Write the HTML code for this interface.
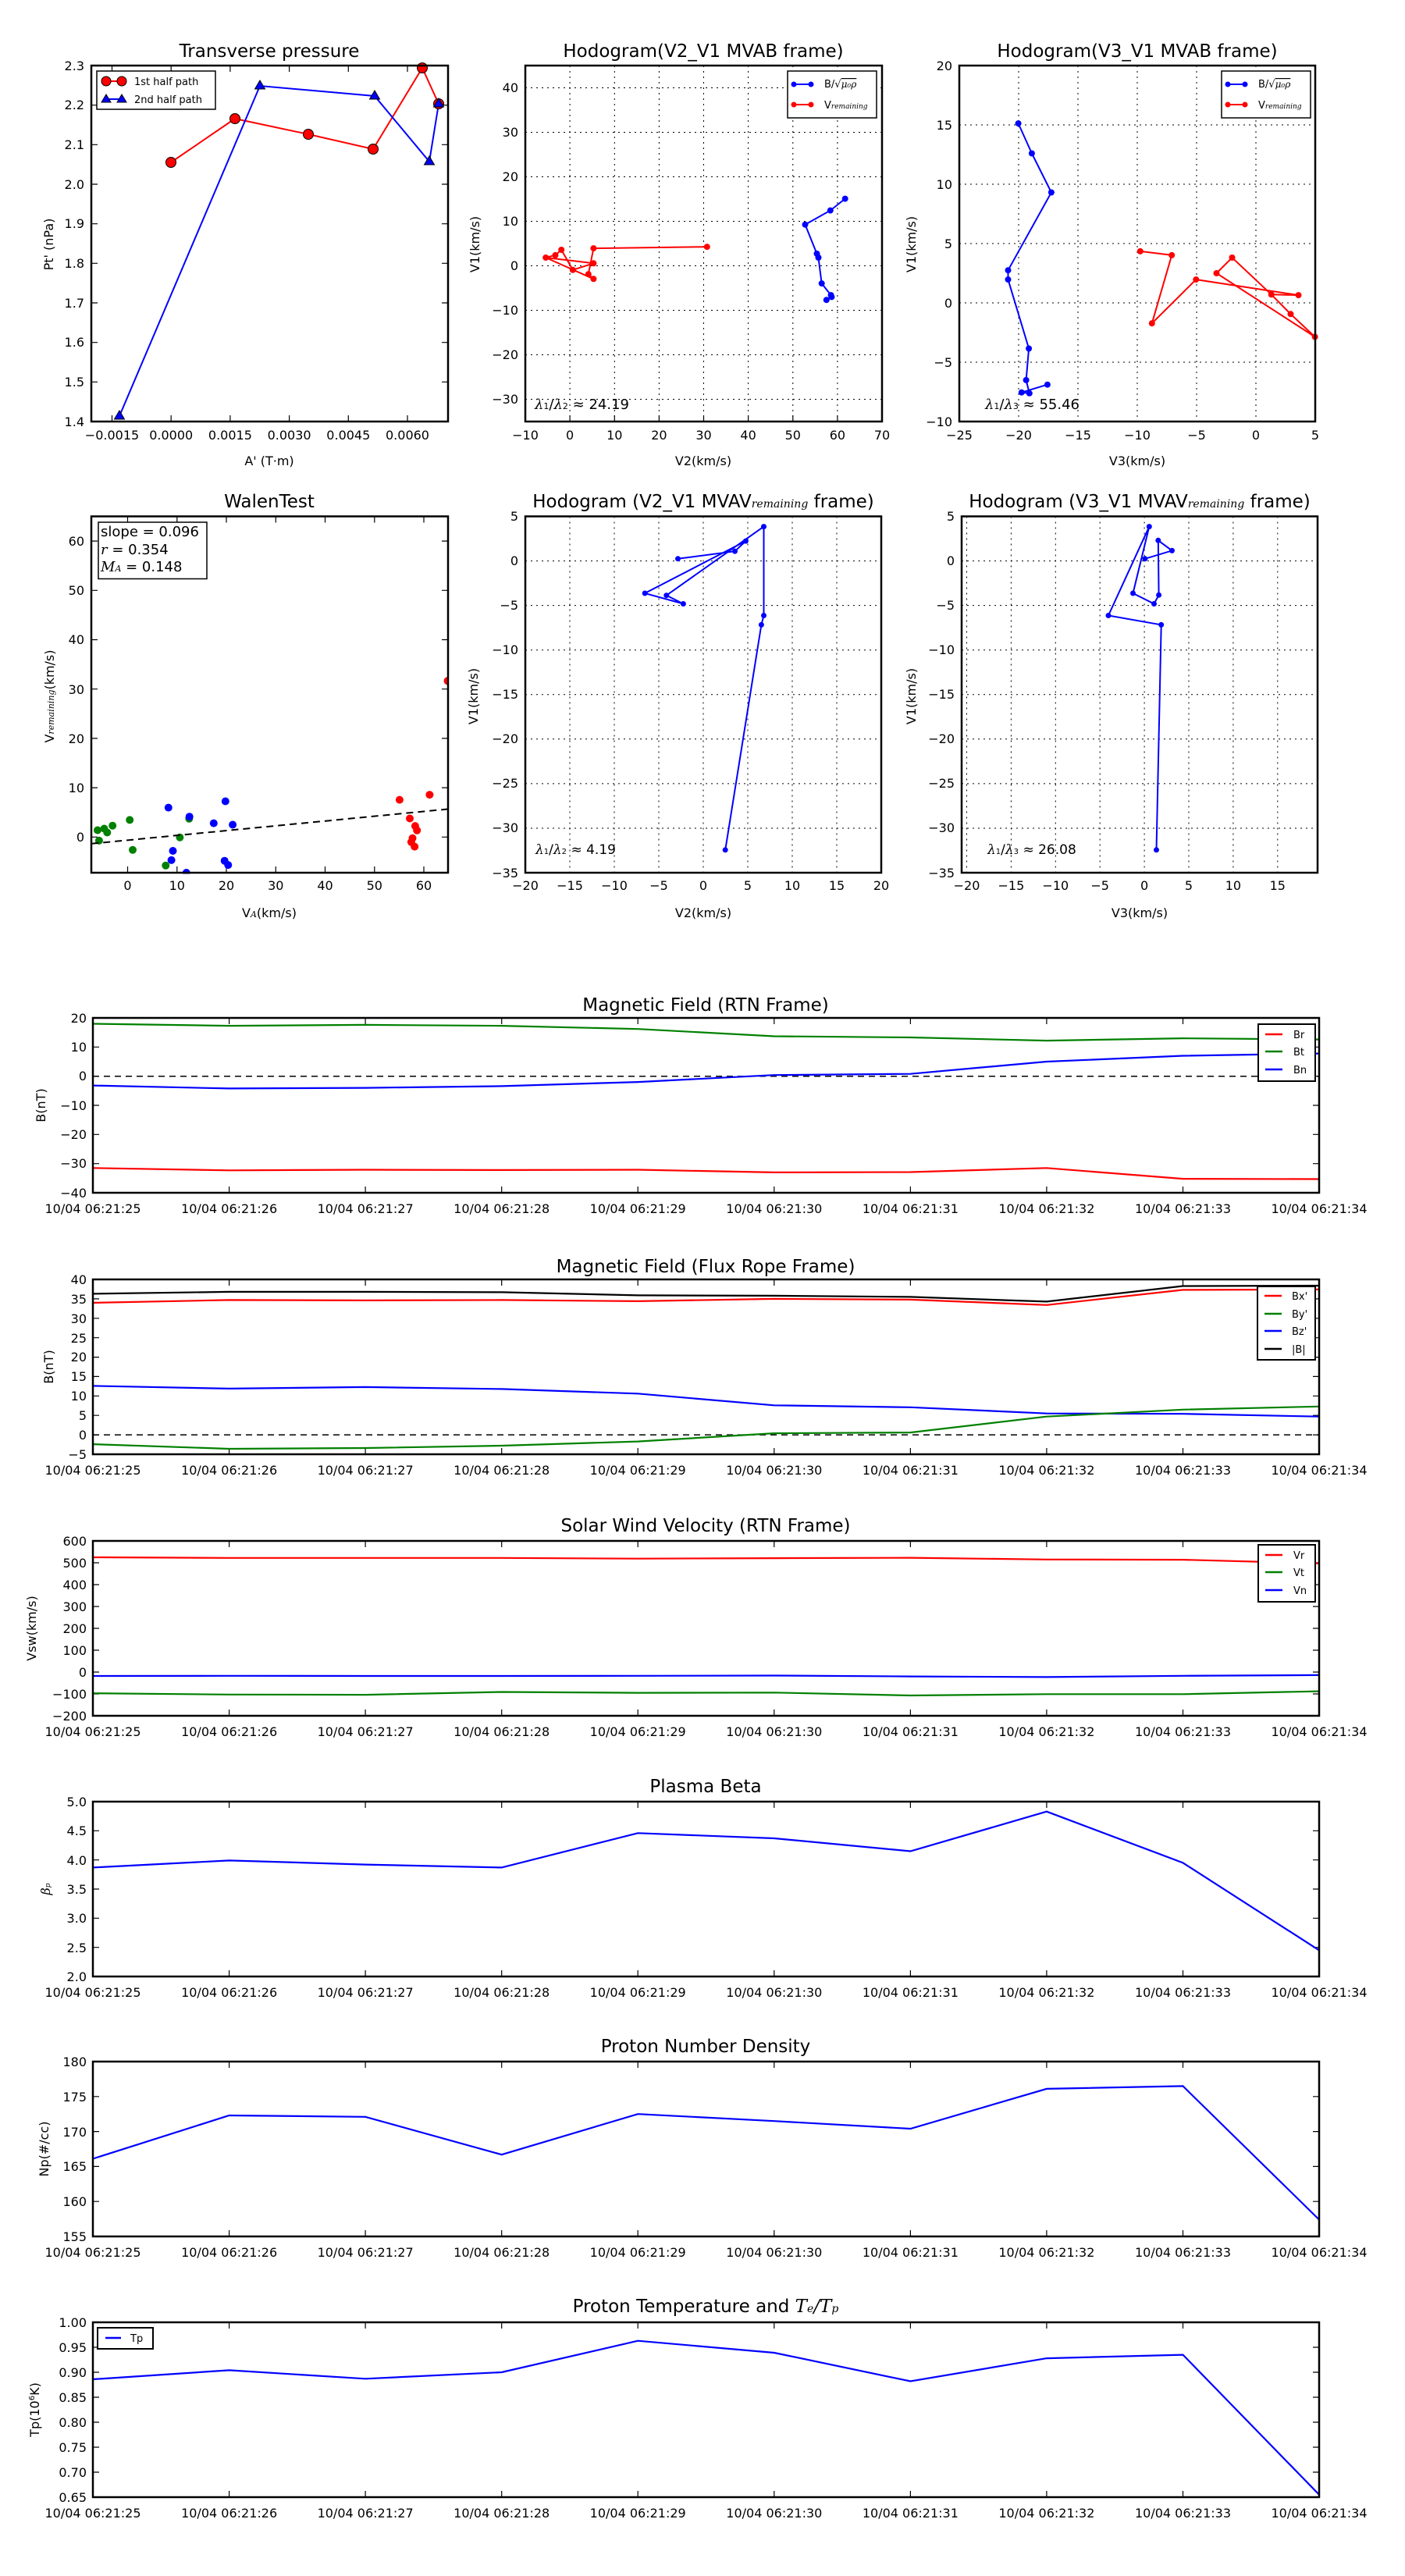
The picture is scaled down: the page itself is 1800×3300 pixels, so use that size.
<!DOCTYPE html>
<html><head><meta charset="utf-8"><style>
html,body{margin:0;padding:0;background:#fff}
svg{display:block}
text{font-family:"DejaVu Sans","Liberation Sans",sans-serif;fill:#000}
.t{font-size:23px;text-anchor:middle}
.tk{font-size:16px}
.yl{font-size:16px;text-anchor:end}
.xl{font-size:16px;text-anchor:middle}
.lab{font-size:16px;text-anchor:middle}
.lg{font-size:13px}
.m{font-family:"DejaVu Serif","Liberation Serif",serif;font-style:italic}
.ax{fill:none;stroke:#000;stroke-width:2.5}
.tick{stroke:#000;stroke-width:1.2}
.grid{stroke:#000;stroke-width:1;stroke-dasharray:2,5}
</style></head><body>
<svg width="1800" height="3300" viewBox="0 0 1800 3300" xmlns="http://www.w3.org/2000/svg">
<rect width="1800" height="3300" fill="#fff"/>

<!-- ============ P1 Transverse pressure ============ -->
<text class="t" x="345" y="73">Transverse pressure</text>
<g class="tick">
<path d="M143.5,540v-8M219.2,540v-8M294.9,540v-8M370.6,540v-8M446.3,540v-8M522,540v-8
M143.5,84v8M219.2,84v8M294.9,84v8M370.6,84v8M446.3,84v8M522,84v8
M117,134.7h8M117,185.3h8M117,236h8M117,286.7h8M117,337.3h8M117,388h8M117,438.7h8M117,489.3h8
M574,134.7h-8M574,185.3h-8M574,236h-8M574,286.7h-8M574,337.3h-8M574,388h-8M574,438.7h-8M574,489.3h-8"/>
</g>
<polyline points="219,208 301,152 395,172 478,191 541,87 562,133" fill="none" stroke="#f00" stroke-width="2"/>
<polyline points="153,533 333,110 480,123 550,207 562,133" fill="none" stroke="#00f" stroke-width="2"/>
<g fill="#f00" stroke="#000" stroke-width="1">
<circle cx="219" cy="208" r="6.5"/><circle cx="301" cy="152" r="6.5"/><circle cx="395" cy="172" r="6.5"/><circle cx="478" cy="191" r="6.5"/><circle cx="541" cy="87" r="6.5"/><circle cx="562" cy="133" r="6.5"/>
</g>
<g fill="#00f" stroke="#000" stroke-width="1">
<path d="M153,526l6.5,11h-13z"/><path d="M333,103l6.5,11h-13z"/><path d="M480,116l6.5,11h-13z"/><path d="M550,200l6.5,11h-13z"/><path d="M562,126l6.5,11h-13z"/>
</g>
<rect class="ax" x="117" y="84" width="457" height="456"/>
<rect x="124" y="91" width="152" height="49" fill="#fff" stroke="#000" stroke-width="1.5"/>
<line x1="136" y1="104" x2="156" y2="104" stroke="#f00" stroke-width="2"/>
<circle cx="136" cy="104" r="6" fill="#f00" stroke="#000"/><circle cx="156" cy="104" r="6" fill="#f00" stroke="#000"/>
<line x1="136" y1="127" x2="156" y2="127" stroke="#00f" stroke-width="2"/>
<path d="M136,121l6,10h-12zM156,121l6,10h-12z" fill="#00f" stroke="#000"/>
<text class="lg" x="172" y="109">1st half path</text>
<text class="lg" x="172" y="132">2nd half path</text>
<g class="yl">
<text x="108" y="90">2.3</text><text x="108" y="140">2.2</text><text x="108" y="191">2.1</text><text x="108" y="242">2.0</text><text x="108" y="292">1.9</text><text x="108" y="343">1.8</text><text x="108" y="394">1.7</text><text x="108" y="444">1.6</text><text x="108" y="495">1.5</text><text x="108" y="546">1.4</text>
</g>
<g class="xl">
<text x="143.5" y="563">−0.0015</text><text x="219.2" y="563">0.0000</text><text x="294.9" y="563">0.0015</text><text x="370.6" y="563">0.0030</text><text x="446.3" y="563">0.0045</text><text x="522" y="563">0.0060</text>
</g>
<text class="lab" x="345" y="596">A' (T·m)</text>
<text class="lab" transform="translate(68,313) rotate(-90)">Pt' (nPa)</text>

<!-- ============ P2 Hodogram V2_V1 MVAB ============ -->
<text class="t" x="901" y="73">Hodogram(V2_V1 MVAB frame)</text>
<g class="grid">
<path d="M730.1,84V540M787.3,84V540M844.4,84V540M901.5,84V540M958.6,84V540M1015.8,84V540M1072.9,84V540
M673,511.5H1130M673,454.5H1130M673,397.5H1130M673,340.5H1130M673,283.5H1130M673,226.5H1130M673,169.5H1130M673,112.5H1130"/>
</g>
<polyline points="905.8,316.2 760.4,318.1 753.8,351.2 760.4,357.3 699.2,330 760.4,337.3 733.8,345.8 719.2,320 711.5,326.9 699.2,330" fill="none" stroke="#f00" stroke-width="2"/>
<g fill="#f00"><circle cx="905.8" cy="316.2" r="4"/><circle cx="760.4" cy="318.1" r="4"/><circle cx="753.8" cy="351.2" r="4"/><circle cx="760.4" cy="357.3" r="4"/><circle cx="699.2" cy="330" r="4"/><circle cx="760.4" cy="337.3" r="4"/><circle cx="733.8" cy="345.8" r="4"/><circle cx="719.2" cy="320" r="4"/><circle cx="711.5" cy="326.9" r="4"/></g>
<polyline points="1082.7,254.6 1063.8,269.6 1031.5,287.7 1046.5,325 1048.5,330 1052.7,363.1 1064.6,378.1 1065.4,380.4 1058.8,384.2" fill="none" stroke="#00f" stroke-width="2"/>
<g fill="#00f"><circle cx="1082.7" cy="254.6" r="4"/><circle cx="1063.8" cy="269.6" r="4"/><circle cx="1031.5" cy="287.7" r="4"/><circle cx="1046.5" cy="325" r="4"/><circle cx="1048.5" cy="330" r="4"/><circle cx="1052.7" cy="363.1" r="4"/><circle cx="1064.6" cy="378.1" r="4"/><circle cx="1065.4" cy="380.4" r="4"/><circle cx="1058.8" cy="384.2" r="4"/></g>
<rect class="ax" x="673" y="84" width="457" height="456"/>
<rect x="1009" y="91" width="114" height="60" fill="#fff" stroke="#000" stroke-width="1.5"/>
<line x1="1016" y1="108" x2="1040" y2="108" stroke="#00f" stroke-width="2"/><circle cx="1017" cy="108" r="3.5" fill="#00f"/><circle cx="1039" cy="108" r="3.5" fill="#00f"/>
<line x1="1016" y1="134" x2="1040" y2="134" stroke="#f00" stroke-width="2"/><circle cx="1017" cy="134" r="3.5" fill="#f00"/><circle cx="1039" cy="134" r="3.5" fill="#f00"/>
<text class="lg" x="1056" y="112">B/√<tspan class="m" font-size="12" text-decoration="overline">μ₀ρ</tspan></text>
<text class="lg" x="1056" y="139">V<tspan class="m" font-size="9">remaining</tspan></text>
<text x="685" y="524" font-size="18"><tspan class="m">λ</tspan><tspan font-size="11">1</tspan>/<tspan class="m">λ</tspan><tspan font-size="11">2</tspan> ≈ 24.19</text>
<g class="tick"><path d="M730.1,540v-8M787.3,540v-8M844.4,540v-8M901.5,540v-8M958.6,540v-8M1015.8,540v-8M1072.9,540v-8"/></g>
<g class="yl">
<text x="664" y="118">40</text><text x="664" y="175">30</text><text x="664" y="232">20</text><text x="664" y="289">10</text><text x="664" y="346">0</text><text x="664" y="403">−10</text><text x="664" y="460">−20</text><text x="664" y="517">−30</text>
</g>
<g class="xl">
<text x="673" y="563">−10</text><text x="730.1" y="563">0</text><text x="787.3" y="563">10</text><text x="844.4" y="563">20</text><text x="901.5" y="563">30</text><text x="958.6" y="563">40</text><text x="1015.8" y="563">50</text><text x="1072.9" y="563">60</text><text x="1130" y="563">70</text>
</g>
<text class="lab" x="901" y="596">V2(km/s)</text>
<text class="lab" transform="translate(614,313) rotate(-90)">V1(km/s)</text>

<!-- ============ P3 Hodogram V3_V1 MVAB ============ -->
<text class="t" x="1457" y="73">Hodogram(V3_V1 MVAB frame)</text>
<g class="grid">
<path d="M1305,84V540M1381,84V540M1457,84V540M1533,84V540M1609,84V540
M1229,464H1685M1229,388H1685M1229,312H1685M1229,236H1685M1229,160H1685"/>
</g>
<polyline points="1304.6,158.1 1321.9,196.5 1346.9,246.5 1291.5,346.2 1291.5,358.1 1318.1,446.5 1314.6,486.9 1318.8,503.8 1308.8,502.7 1341.9,492.7" fill="none" stroke="#00f" stroke-width="2"/>
<g fill="#00f"><circle cx="1304.6" cy="158.1" r="4"/><circle cx="1321.9" cy="196.5" r="4"/><circle cx="1346.9" cy="246.5" r="4"/><circle cx="1291.5" cy="346.2" r="4"/><circle cx="1291.5" cy="358.1" r="4"/><circle cx="1318.1" cy="446.5" r="4"/><circle cx="1314.6" cy="486.9" r="4"/><circle cx="1318.8" cy="503.8" r="4"/><circle cx="1308.8" cy="502.7" r="4"/><circle cx="1341.9" cy="492.7" r="4"/></g>
<polyline points="1460.8,321.9 1501.2,326.9 1475.8,414.2 1532.3,358.1 1663.5,378.1 1628.8,377.3 1578.5,330 1558.5,350 1684.6,431.5 1653.5,402.3 1628.8,377.3" fill="none" stroke="#f00" stroke-width="2"/>
<g fill="#f00"><circle cx="1460.8" cy="321.9" r="4"/><circle cx="1501.2" cy="326.9" r="4"/><circle cx="1475.8" cy="414.2" r="4"/><circle cx="1532.3" cy="358.1" r="4"/><circle cx="1663.5" cy="378.1" r="4"/><circle cx="1628.8" cy="377.3" r="4"/><circle cx="1578.5" cy="330" r="4"/><circle cx="1558.5" cy="350" r="4"/><circle cx="1684.6" cy="431.5" r="4"/><circle cx="1653.5" cy="402.3" r="4"/></g>
<rect class="ax" x="1229" y="84" width="456" height="456"/>
<rect x="1565" y="91" width="114" height="60" fill="#fff" stroke="#000" stroke-width="1.5"/>
<line x1="1572" y1="108" x2="1596" y2="108" stroke="#00f" stroke-width="2"/><circle cx="1573" cy="108" r="3.5" fill="#00f"/><circle cx="1595" cy="108" r="3.5" fill="#00f"/>
<line x1="1572" y1="134" x2="1596" y2="134" stroke="#f00" stroke-width="2"/><circle cx="1573" cy="134" r="3.5" fill="#f00"/><circle cx="1595" cy="134" r="3.5" fill="#f00"/>
<text class="lg" x="1612" y="112">B/√<tspan class="m" font-size="12" text-decoration="overline">μ₀ρ</tspan></text>
<text class="lg" x="1612" y="139">V<tspan class="m" font-size="9">remaining</tspan></text>
<text x="1262" y="524" font-size="18"><tspan class="m">λ</tspan><tspan font-size="11">1</tspan>/<tspan class="m">λ</tspan><tspan font-size="11">3</tspan> ≈ 55.46</text>
<g class="yl">
<text x="1220" y="90">20</text><text x="1220" y="166">15</text><text x="1220" y="242">10</text><text x="1220" y="318">5</text><text x="1220" y="394">0</text><text x="1220" y="470">−5</text><text x="1220" y="546">−10</text>
</g>
<g class="xl">
<text x="1229" y="563">−25</text><text x="1305" y="563">−20</text><text x="1381" y="563">−15</text><text x="1457" y="563">−10</text><text x="1533" y="563">−5</text><text x="1609" y="563">0</text><text x="1685" y="563">5</text>
</g>
<text class="lab" x="1457" y="596">V3(km/s)</text>
<text class="lab" transform="translate(1173,313) rotate(-90)">V1(km/s)</text>

<!-- ============ P4 WalenTest ============ -->
<text class="t" x="345" y="650">WalenTest</text>
<g class="tick">
<path d="M163.5,1118v-8M226.8,1118v-8M290,1118v-8M353.3,1118v-8M416.5,1118v-8M479.8,1118v-8M543,1118v-8
M163.5,661.5v8M226.8,661.5v8M290,661.5v8M353.3,661.5v8M416.5,661.5v8M479.8,661.5v8M543,661.5v8
M117,1072.3h8M117,1009.1h8M117,945.9h8M117,882.7h8M117,819.5h8M117,756.3h8M117,693.1h8
M574,1072.3h-8M574,1009.1h-8M574,945.9h-8M574,882.7h-8M574,819.5h-8M574,756.3h-8M574,693.1h-8"/>
</g>
<g fill="#008000"><circle cx="125" cy="1063.5" r="5"/><circle cx="126.9" cy="1076.9" r="5"/><circle cx="133.5" cy="1061.5" r="5"/><circle cx="137.3" cy="1066.5" r="5"/><circle cx="144.2" cy="1057.7" r="5"/><circle cx="166.2" cy="1050.4" r="5"/><circle cx="170" cy="1088.8" r="5"/><circle cx="212.3" cy="1108.8" r="5"/><circle cx="230.4" cy="1072.7" r="5"/><circle cx="242.3" cy="1048.8" r="5"/></g>
<g fill="#00f"><circle cx="215.8" cy="1034.6" r="5"/><circle cx="242.7" cy="1046.2" r="5"/><circle cx="221.5" cy="1090" r="5"/><circle cx="219.6" cy="1101.9" r="5"/><circle cx="238.8" cy="1118" r="5"/><circle cx="273.8" cy="1054.6" r="5"/><circle cx="288.8" cy="1026.5" r="5"/><circle cx="298.1" cy="1056.5" r="5"/><circle cx="287.7" cy="1102.7" r="5"/><circle cx="292.3" cy="1108.1" r="5"/></g>
<g fill="#f00"><circle cx="511.9" cy="1024.6" r="5"/><circle cx="525" cy="1048.5" r="5"/><circle cx="531.9" cy="1058.1" r="5"/><circle cx="534.2" cy="1063.8" r="5"/><circle cx="528.5" cy="1073.8" r="5"/><circle cx="526.9" cy="1078.8" r="5"/><circle cx="531.2" cy="1084.6" r="5"/><circle cx="550.4" cy="1018.1" r="5"/><circle cx="573.5" cy="872.3" r="5"/></g>
<line x1="117.3" y1="1080.8" x2="573.8" y2="1036.5" stroke="#000" stroke-width="2" stroke-dasharray="9,6"/>
<rect x="112" y="1119.5" width="470" height="10" fill="#fff"/>
<rect x="574.5" y="860" width="10" height="30" fill="#fff"/>
<rect class="ax" x="117" y="661.5" width="457" height="456.5"/>
<rect x="126" y="669" width="139" height="72.5" fill="#fff" stroke="#000" stroke-width="1.5"/>
<text x="129" y="687" font-size="18">slope = 0.096</text>
<text x="129" y="710" font-size="18"><tspan class="m">r</tspan> = 0.354</text>
<text x="129" y="732" font-size="18"><tspan class="m">M</tspan><tspan class="m" font-size="11">A</tspan> = 0.148</text>
<g class="yl">
<text x="108" y="1078">0</text><text x="108" y="1015">10</text><text x="108" y="952">20</text><text x="108" y="889">30</text><text x="108" y="825">40</text><text x="108" y="762">50</text><text x="108" y="699">60</text>
</g>
<g class="xl">
<text x="163.5" y="1140">0</text><text x="226.8" y="1140">10</text><text x="290" y="1140">20</text><text x="353.3" y="1140">30</text><text x="416.5" y="1140">40</text><text x="479.8" y="1140">50</text><text x="543" y="1140">60</text>
</g>
<text class="lab" x="345" y="1175">V<tspan class="m" font-size="11">A</tspan>(km/s)</text>
<text class="lab" transform="translate(69,892) rotate(-90)">V<tspan class="m" font-size="11">remaining</tspan>(km/s)</text>

<!-- ============ P5 Hodogram V2_V1 MVAV ============ -->
<text class="t" x="901" y="650">Hodogram (V2_V1 MVAV<tspan class="m" font-size="14">remaining</tspan> frame)</text>
<g class="grid">
<path d="M730,661.5V1118M787,661.5V1118M844,661.5V1118M901,661.5V1118M958,661.5V1118M1015,661.5V1118M1072,661.5V1118
M673,718.6H1129M673,775.6H1129M673,832.7H1129M673,889.8H1129M673,946.8H1129M673,1003.9H1129M673,1061H1129"/>
</g>
<polyline points="868.5,715.8 941.5,706.2 955.4,693.1 826.2,760 875.4,773.5 853.8,762.7 978.5,674.6 978.5,788.5 975.4,800.4 929.2,1088.8" fill="none" stroke="#00f" stroke-width="2"/>
<g fill="#00f"><circle cx="868.5" cy="715.8" r="3.5"/><circle cx="941.5" cy="706.2" r="3.5"/><circle cx="955.4" cy="693.1" r="3.5"/><circle cx="826.2" cy="760" r="3.5"/><circle cx="875.4" cy="773.5" r="3.5"/><circle cx="853.8" cy="762.7" r="3.5"/><circle cx="978.5" cy="674.6" r="3.5"/><circle cx="978.5" cy="788.5" r="3.5"/><circle cx="975.4" cy="800.4" r="3.5"/><circle cx="929.2" cy="1088.8" r="3.5"/></g>
<rect class="ax" x="673" y="661.5" width="456" height="456.5"/>
<text x="686" y="1094" font-size="17"><tspan class="m">λ</tspan><tspan font-size="10">1</tspan>/<tspan class="m">λ</tspan><tspan font-size="10">2</tspan> ≈ 4.19</text>
<g class="yl">
<text x="664" y="667">5</text><text x="664" y="724">0</text><text x="664" y="781">−5</text><text x="664" y="838">−10</text><text x="664" y="895">−15</text><text x="664" y="952">−20</text><text x="664" y="1009">−25</text><text x="664" y="1066">−30</text><text x="664" y="1124">−35</text>
</g>
<g class="xl">
<text x="673" y="1140">−20</text><text x="730" y="1140">−15</text><text x="787" y="1140">−10</text><text x="844" y="1140">−5</text><text x="901" y="1140">0</text><text x="958" y="1140">5</text><text x="1015" y="1140">10</text><text x="1072" y="1140">15</text><text x="1129" y="1140">20</text>
</g>
<text class="lab" x="901" y="1175">V2(km/s)</text>
<text class="lab" transform="translate(612,892) rotate(-90)">V1(km/s)</text>

<!-- ============ P6 Hodogram V3_V1 MVAV ============ -->
<text class="t" x="1460" y="650">Hodogram (V3_V1 MVAV<tspan class="m" font-size="14">remaining</tspan> frame)</text>
<g class="grid">
<path d="M1238.5,661.5V1118M1295.4,661.5V1118M1352.3,661.5V1118M1409.2,661.5V1118M1466.1,661.5V1118M1523,661.5V1118M1579.9,661.5V1118M1636.8,661.5V1118
M1232,718.6H1688M1232,775.6H1688M1232,832.7H1688M1232,889.8H1688M1232,946.8H1688M1232,1003.9H1688M1232,1061H1688"/>
</g>
<polyline points="1466.9,715.8 1501.5,705.4 1483.8,692.3 1484.6,762.3 1478.5,773.5 1451.5,760 1472.3,674.6 1420,788.5 1487.7,800.4 1481.5,1088.8" fill="none" stroke="#00f" stroke-width="2"/>
<g fill="#00f"><circle cx="1466.9" cy="715.8" r="3.5"/><circle cx="1501.5" cy="705.4" r="3.5"/><circle cx="1483.8" cy="692.3" r="3.5"/><circle cx="1484.6" cy="762.3" r="3.5"/><circle cx="1478.5" cy="773.5" r="3.5"/><circle cx="1451.5" cy="760" r="3.5"/><circle cx="1472.3" cy="674.6" r="3.5"/><circle cx="1420" cy="788.5" r="3.5"/><circle cx="1487.7" cy="800.4" r="3.5"/><circle cx="1481.5" cy="1088.8" r="3.5"/></g>
<rect class="ax" x="1232" y="661.5" width="456" height="456.5"/>
<text x="1265" y="1094" font-size="17"><tspan class="m">λ</tspan><tspan font-size="10">1</tspan>/<tspan class="m">λ</tspan><tspan font-size="10">3</tspan> ≈ 26.08</text>
<g class="yl">
<text x="1223" y="667">5</text><text x="1223" y="724">0</text><text x="1223" y="781">−5</text><text x="1223" y="838">−10</text><text x="1223" y="895">−15</text><text x="1223" y="952">−20</text><text x="1223" y="1009">−25</text><text x="1223" y="1066">−30</text><text x="1223" y="1124">−35</text>
</g>
<g class="xl">
<text x="1238.5" y="1140">−20</text><text x="1295.4" y="1140">−15</text><text x="1352.3" y="1140">−10</text><text x="1409.2" y="1140">−5</text><text x="1466.1" y="1140">0</text><text x="1523" y="1140">5</text><text x="1579.9" y="1140">10</text><text x="1636.8" y="1140">15</text>
</g>
<text class="lab" x="1460" y="1175">V3(km/s)</text>
<text class="lab" transform="translate(1173,892) rotate(-90)">V1(km/s)</text>

<!-- RTN -->
<text class="t" x="904" y="1295">Magnetic Field (RTN Frame)</text>
<g class="tick"><path d="M293.6,1528v-8M468.1,1528v-8M642.7,1528v-8M817.2,1528v-8M991.8,1528v-8M1166.4,1528v-8M1340.9,1528v-8M1515.5,1528v-8
M293.6,1304v8M468.1,1304v8M642.7,1304v8M817.2,1304v8M991.8,1304v8M1166.4,1304v8M1340.9,1304v8M1515.5,1304v8
M119,1341.3h8M119,1378.7h8M119,1416h8M119,1453.3h8M119,1490.7h8M1690,1341.3h-8M1690,1378.7h-8M1690,1416h-8M1690,1453.3h-8M1690,1490.7h-8"/></g>
<line x1="119" y1="1378.7" x2="1690" y2="1378.7" stroke="#000" stroke-width="1.5" stroke-dasharray="8,6"/>
<polyline points="119,1311.5 293.6,1314.1 468.1,1312.9 642.7,1314.1 817.2,1318.2 991.8,1327.5 1166.4,1329 1340.9,1333.1 1515.5,1330.1 1690,1331.6" fill="none" stroke="#008000" stroke-width="2.2"/>
<polyline points="119,1390.6 293.6,1394.4 468.1,1393.6 642.7,1391.4 817.2,1386.1 991.8,1377.2 1166.4,1375.7 1340.9,1360 1515.5,1352.5 1690,1349.6" fill="none" stroke="#00f" stroke-width="2.2"/>
<polyline points="119,1496.3 293.6,1499.3 468.1,1498.5 642.7,1498.9 817.2,1498.5 991.8,1501.9 1166.4,1501.5 1340.9,1496.3 1515.5,1510.1 1690,1510.5" fill="none" stroke="#f00" stroke-width="2.2"/>
<rect class="ax" x="119" y="1304" width="1571" height="224"/>
<rect x="1612" y="1312" width="73" height="73" fill="#fff" stroke="#000" stroke-width="2"/>
<line x1="1621" y1="1325" x2="1643" y2="1325" stroke="#f00" stroke-width="2.5"/><text class="lg" x="1657" y="1330">Br</text>
<line x1="1621" y1="1347" x2="1643" y2="1347" stroke="#008000" stroke-width="2.5"/><text class="lg" x="1657" y="1352">Bt</text>
<line x1="1621" y1="1370" x2="1643" y2="1370" stroke="#00f" stroke-width="2.5"/><text class="lg" x="1657" y="1375">Bn</text>
<g class="yl"><text x="111" y="1310">20</text><text x="111" y="1347">10</text><text x="111" y="1384">0</text><text x="111" y="1422">−10</text><text x="111" y="1459">−20</text><text x="111" y="1496">−30</text><text x="111" y="1534">−40</text></g>
<g class="xl"><text x="119" y="1554">10/04 06:21:25</text><text x="293.6" y="1554">10/04 06:21:26</text><text x="468.1" y="1554">10/04 06:21:27</text><text x="642.7" y="1554">10/04 06:21:28</text><text x="817.2" y="1554">10/04 06:21:29</text><text x="991.8" y="1554">10/04 06:21:30</text><text x="1166.4" y="1554">10/04 06:21:31</text><text x="1340.9" y="1554">10/04 06:21:32</text><text x="1515.5" y="1554">10/04 06:21:33</text><text x="1690" y="1554">10/04 06:21:34</text></g>
<text class="lab" font-size="15" transform="translate(58,1416) rotate(-90)">B(nT)</text>

<!-- Flux rope -->
<text class="t" x="904" y="1630">Magnetic Field (Flux Rope Frame)</text>
<g class="tick"><path d="M293.6,1863v-8M468.1,1863v-8M642.7,1863v-8M817.2,1863v-8M991.8,1863v-8M1166.4,1863v-8M1340.9,1863v-8M1515.5,1863v-8
M293.6,1639v8M468.1,1639v8M642.7,1639v8M817.2,1639v8M991.8,1639v8M1166.4,1639v8M1340.9,1639v8M1515.5,1639v8
M119,1663.9h8M119,1688.8h8M119,1713.7h8M119,1738.6h8M119,1763.4h8M119,1788.3h8M119,1813.2h8M119,1838.1h8
M1690,1663.9h-8M1690,1688.8h-8M1690,1713.7h-8M1690,1738.6h-8M1690,1763.4h-8M1690,1788.3h-8M1690,1813.2h-8M1690,1838.1h-8"/></g>
<line x1="119" y1="1838.1" x2="1690" y2="1838.1" stroke="#000" stroke-width="1.5" stroke-dasharray="8,6"/>
<polyline points="119,1657.4 293.6,1654.9 468.1,1654.9 642.7,1655.4 817.2,1659.4 991.8,1659.9 1166.4,1661.4 1340.9,1667.4 1515.5,1647.5 1690,1647" fill="none" stroke="#000" stroke-width="2.2"/>
<polyline points="119,1668.9 293.6,1665.4 468.1,1665.9 642.7,1665.4 817.2,1666.9 991.8,1663.9 1166.4,1664.9 1340.9,1671.8 1515.5,1652.4 1690,1651.9" fill="none" stroke="#f00" stroke-width="2.2"/>
<polyline points="119,1775.4 293.6,1778.9 468.1,1776.9 642.7,1779.4 817.2,1785.3 991.8,1800.3 1166.4,1802.8 1340.9,1810.7 1515.5,1811.2 1690,1814.7" fill="none" stroke="#00f" stroke-width="2.2"/>
<polyline points="119,1850.1 293.6,1856 468.1,1855 642.7,1852 817.2,1846.6 991.8,1836.1 1166.4,1835.1 1340.9,1814.7 1515.5,1805.8 1690,1801.8" fill="none" stroke="#008000" stroke-width="2.2"/>
<rect class="ax" x="119" y="1639" width="1571" height="224"/>
<rect x="1611" y="1648" width="74" height="94" fill="#fff" stroke="#000" stroke-width="2"/>
<line x1="1620" y1="1660" x2="1642" y2="1660" stroke="#f00" stroke-width="2.5"/><text class="lg" x="1655" y="1665">Bx'</text>
<line x1="1620" y1="1683" x2="1642" y2="1683" stroke="#008000" stroke-width="2.5"/><text class="lg" x="1655" y="1688">By'</text>
<line x1="1620" y1="1705" x2="1642" y2="1705" stroke="#00f" stroke-width="2.5"/><text class="lg" x="1655" y="1710">Bz'</text>
<line x1="1620" y1="1728" x2="1642" y2="1728" stroke="#000" stroke-width="2.5"/><text class="lg" x="1655" y="1733">|B|</text>
<g class="yl"><text x="111" y="1645">40</text><text x="111" y="1670">35</text><text x="111" y="1695">30</text><text x="111" y="1720">25</text><text x="111" y="1744">20</text><text x="111" y="1769">15</text><text x="111" y="1794">10</text><text x="111" y="1819">5</text><text x="111" y="1844">0</text><text x="111" y="1869">−5</text></g>
<g class="xl"><text x="119" y="1889">10/04 06:21:25</text><text x="293.6" y="1889">10/04 06:21:26</text><text x="468.1" y="1889">10/04 06:21:27</text><text x="642.7" y="1889">10/04 06:21:28</text><text x="817.2" y="1889">10/04 06:21:29</text><text x="991.8" y="1889">10/04 06:21:30</text><text x="1166.4" y="1889">10/04 06:21:31</text><text x="1340.9" y="1889">10/04 06:21:32</text><text x="1515.5" y="1889">10/04 06:21:33</text><text x="1690" y="1889">10/04 06:21:34</text></g>
<text class="lab" font-size="15" transform="translate(68,1751) rotate(-90)">B(nT)</text>

<!-- Solar wind -->
<text class="t" x="904" y="1962">Solar Wind Velocity (RTN Frame)</text>
<g class="tick"><path d="M293.6,2198v-8M468.1,2198v-8M642.7,2198v-8M817.2,2198v-8M991.8,2198v-8M1166.4,2198v-8M1340.9,2198v-8M1515.5,2198v-8
M293.6,1974v8M468.1,1974v8M642.7,1974v8M817.2,1974v8M991.8,1974v8M1166.4,1974v8M1340.9,1974v8M1515.5,1974v8
M119,2002h8M119,2030h8M119,2058h8M119,2086h8M119,2114h8M119,2142h8M119,2170h8
M1690,2002h-8M1690,2030h-8M1690,2058h-8M1690,2086h-8M1690,2114h-8M1690,2142h-8M1690,2170h-8"/></g>
<polyline points="119,1995 293.6,1995.8 468.1,1995.8 642.7,1995.8 817.2,1996.7 991.8,1996.1 1166.4,1995.6 1340.9,1997.8 1515.5,1998.1 1690,2002.8" fill="none" stroke="#f00" stroke-width="2.2"/>
<polyline points="119,2147 293.6,2146.8 468.1,2147 642.7,2147 817.2,2146.8 991.8,2146.5 1166.4,2147.6 1340.9,2148.4 1515.5,2146.8 1690,2145.9" fill="none" stroke="#00f" stroke-width="2.2"/>
<polyline points="119,2169.2 293.6,2170.8 468.1,2171.1 642.7,2167.5 817.2,2168.6 991.8,2168.3 1166.4,2172 1340.9,2170.3 1515.5,2170.3 1690,2166.6" fill="none" stroke="#008000" stroke-width="2.2"/>
<rect class="ax" x="119" y="1974" width="1571" height="224"/>
<rect x="1612" y="1979" width="73" height="73" fill="#fff" stroke="#000" stroke-width="2"/>
<line x1="1621" y1="1992" x2="1643" y2="1992" stroke="#f00" stroke-width="2.5"/><text class="lg" x="1657" y="1997">Vr</text>
<line x1="1621" y1="2014" x2="1643" y2="2014" stroke="#008000" stroke-width="2.5"/><text class="lg" x="1657" y="2019">Vt</text>
<line x1="1621" y1="2037" x2="1643" y2="2037" stroke="#00f" stroke-width="2.5"/><text class="lg" x="1657" y="2042">Vn</text>
<g class="yl"><text x="111" y="1980">600</text><text x="111" y="2008">500</text><text x="111" y="2036">400</text><text x="111" y="2064">300</text><text x="111" y="2092">200</text><text x="111" y="2120">100</text><text x="111" y="2148">0</text><text x="111" y="2176">−100</text><text x="111" y="2204">−200</text></g>
<g class="xl"><text x="119" y="2224">10/04 06:21:25</text><text x="293.6" y="2224">10/04 06:21:26</text><text x="468.1" y="2224">10/04 06:21:27</text><text x="642.7" y="2224">10/04 06:21:28</text><text x="817.2" y="2224">10/04 06:21:29</text><text x="991.8" y="2224">10/04 06:21:30</text><text x="1166.4" y="2224">10/04 06:21:31</text><text x="1340.9" y="2224">10/04 06:21:32</text><text x="1515.5" y="2224">10/04 06:21:33</text><text x="1690" y="2224">10/04 06:21:34</text></g>
<text class="lab" font-size="15" transform="translate(46,2086) rotate(-90)">Vsw(km/s)</text>

<!-- Plasma beta -->
<text class="t" x="904" y="2296">Plasma Beta</text>
<g class="tick"><path d="M293.6,2532v-8M468.1,2532v-8M642.7,2532v-8M817.2,2532v-8M991.8,2532v-8M1166.4,2532v-8M1340.9,2532v-8M1515.5,2532v-8
M293.6,2308v8M468.1,2308v8M642.7,2308v8M817.2,2308v8M991.8,2308v8M1166.4,2308v8M1340.9,2308v8M1515.5,2308v8
M119,2345.3h8M119,2382.7h8M119,2420h8M119,2457.3h8M119,2494.7h8
M1690,2345.3h-8M1690,2382.7h-8M1690,2420h-8M1690,2457.3h-8M1690,2494.7h-8"/></g>
<polyline points="119,2392.4 293.6,2383.4 468.1,2388.6 642.7,2392.4 817.2,2348.3 991.8,2355 1166.4,2371.5 1340.9,2320.7 1515.5,2386.4 1690,2498.4" fill="none" stroke="#00f" stroke-width="2.2"/>
<rect class="ax" x="119" y="2308" width="1571" height="224"/>
<g class="yl"><text x="111" y="2314">5.0</text><text x="111" y="2351">4.5</text><text x="111" y="2389">4.0</text><text x="111" y="2426">3.5</text><text x="111" y="2463">3.0</text><text x="111" y="2501">2.5</text><text x="111" y="2538">2.0</text></g>
<g class="xl"><text x="119" y="2558">10/04 06:21:25</text><text x="293.6" y="2558">10/04 06:21:26</text><text x="468.1" y="2558">10/04 06:21:27</text><text x="642.7" y="2558">10/04 06:21:28</text><text x="817.2" y="2558">10/04 06:21:29</text><text x="991.8" y="2558">10/04 06:21:30</text><text x="1166.4" y="2558">10/04 06:21:31</text><text x="1340.9" y="2558">10/04 06:21:32</text><text x="1515.5" y="2558">10/04 06:21:33</text><text x="1690" y="2558">10/04 06:21:34</text></g>
<text class="lab" font-size="14" transform="translate(64,2420) rotate(-90)"><tspan class="m">β</tspan><tspan class="m" font-size="9">p</tspan></text>

<!-- Proton density -->
<text class="t" x="904" y="2629">Proton Number Density</text>
<g class="tick"><path d="M293.6,2865v-8M468.1,2865v-8M642.7,2865v-8M817.2,2865v-8M991.8,2865v-8M1166.4,2865v-8M1340.9,2865v-8M1515.5,2865v-8
M293.6,2641v8M468.1,2641v8M642.7,2641v8M817.2,2641v8M991.8,2641v8M1166.4,2641v8M1340.9,2641v8M1515.5,2641v8
M119,2685.8h8M119,2730.6h8M119,2775.4h8M119,2820.2h8M1690,2685.8h-8M1690,2730.6h-8M1690,2775.4h-8M1690,2820.2h-8"/></g>
<polyline points="119,2765.5 293.6,2710 468.1,2711.8 642.7,2760.2 817.2,2708.2 991.8,2717.2 1166.4,2727 1340.9,2675.9 1515.5,2672.4 1690,2843.5" fill="none" stroke="#00f" stroke-width="2.2"/>
<rect class="ax" x="119" y="2641" width="1571" height="224"/>
<g class="yl"><text x="111" y="2647">180</text><text x="111" y="2692">175</text><text x="111" y="2737">170</text><text x="111" y="2781">165</text><text x="111" y="2826">160</text><text x="111" y="2871">155</text></g>
<g class="xl"><text x="119" y="2891">10/04 06:21:25</text><text x="293.6" y="2891">10/04 06:21:26</text><text x="468.1" y="2891">10/04 06:21:27</text><text x="642.7" y="2891">10/04 06:21:28</text><text x="817.2" y="2891">10/04 06:21:29</text><text x="991.8" y="2891">10/04 06:21:30</text><text x="1166.4" y="2891">10/04 06:21:31</text><text x="1340.9" y="2891">10/04 06:21:32</text><text x="1515.5" y="2891">10/04 06:21:33</text><text x="1690" y="2891">10/04 06:21:34</text></g>
<text class="lab" font-size="15" transform="translate(62,2753) rotate(-90)">Np(#/cc)</text>

<!-- Proton temperature -->
<text class="t" x="904" y="2962">Proton Temperature and <tspan class="m">T</tspan><tspan class="m" font-size="14">e</tspan><tspan class="m">/T</tspan><tspan class="m" font-size="14">p</tspan></text>
<g class="tick"><path d="M293.6,3199v-8M468.1,3199v-8M642.7,3199v-8M817.2,3199v-8M991.8,3199v-8M1166.4,3199v-8M1340.9,3199v-8M1515.5,3199v-8
M293.6,2975v8M468.1,2975v8M642.7,2975v8M817.2,2975v8M991.8,2975v8M1166.4,2975v8M1340.9,2975v8M1515.5,2975v8
M119,3007h8M119,3039h8M119,3071h8M119,3103h8M119,3135h8M119,3167h8
M1690,3007h-8M1690,3039h-8M1690,3071h-8M1690,3103h-8M1690,3135h-8M1690,3167h-8"/></g>
<polyline points="119,3048 293.6,3036.4 468.1,3047.3 642.7,3039 817.2,2998.7 991.8,3014 1166.4,3050.5 1340.9,3021.1 1515.5,3016.6 1690,3195.8" fill="none" stroke="#00f" stroke-width="2.2"/>
<rect class="ax" x="119" y="2975" width="1571" height="224"/>
<rect x="125" y="2982" width="71" height="27" fill="#fff" stroke="#000" stroke-width="2"/>
<line x1="135" y1="2995" x2="155" y2="2995" stroke="#00f" stroke-width="2.5"/><text class="lg" x="167" y="3000">Tp</text>
<g class="yl"><text x="111" y="2981">1.00</text><text x="111" y="3013">0.95</text><text x="111" y="3045">0.90</text><text x="111" y="3077">0.85</text><text x="111" y="3109">0.80</text><text x="111" y="3141">0.75</text><text x="111" y="3173">0.70</text><text x="111" y="3205">0.65</text></g>
<g class="xl"><text x="119" y="3225">10/04 06:21:25</text><text x="293.6" y="3225">10/04 06:21:26</text><text x="468.1" y="3225">10/04 06:21:27</text><text x="642.7" y="3225">10/04 06:21:28</text><text x="817.2" y="3225">10/04 06:21:29</text><text x="991.8" y="3225">10/04 06:21:30</text><text x="1166.4" y="3225">10/04 06:21:31</text><text x="1340.9" y="3225">10/04 06:21:32</text><text x="1515.5" y="3225">10/04 06:21:33</text><text x="1690" y="3225">10/04 06:21:34</text></g>
<text class="lab" font-size="15" transform="translate(50,3087) rotate(-90)">Tp(10<tspan font-size="10" dy="-6">6</tspan><tspan dy="6">K)</tspan></text>
</svg>
</body></html>
